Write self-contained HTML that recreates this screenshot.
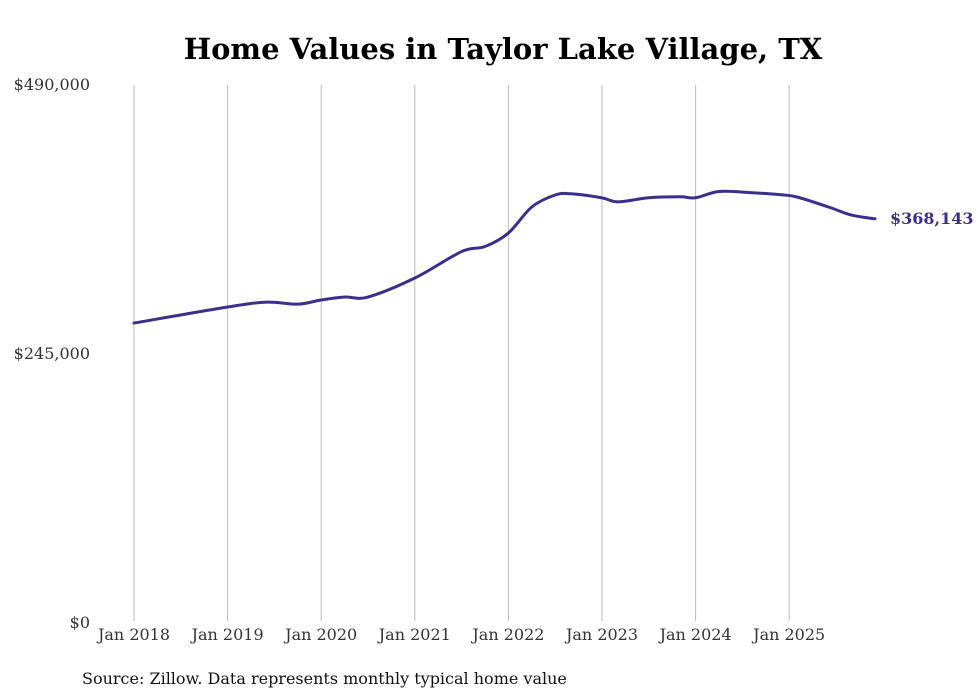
<!DOCTYPE html>
<html><head><meta charset="utf-8"><style>
body{margin:0;background:#fff;}
svg{display:block;font-family:"DejaVu Serif","Liberation Serif",serif;}
</style></head><body>
<svg id="chart" width="980" height="699" viewBox="0 0 980 699" xmlns="http://www.w3.org/2000/svg">
<text x="503" y="59" text-anchor="middle" font-size="29" font-weight="bold" fill="#000">Home Values in Taylor Lake Village, TX</text>
<g id="grid"></g><g id="yaxis"></g><g id="xaxis"></g><g id="series"></g>
<text x="82" y="684" font-size="16" fill="#111">Source: Zillow. Data represents monthly typical home value</text>
</svg>
<script>
const months = [0,12,17,21,24,27,30,36,42,45,48,51,54,56,60,62,66,70,72,75,79,83,85,89,92,95];
const values = [273200,287800,292200,290400,294200,296900,296900,314200,338300,342900,355200,378900,389800,390900,387200,383600,387300,388200,387300,393000,392000,390000,388000,379000,371500,368143];
const yTicks = [0,245000,490000];
const yTickLabels = ["$0","$245,000","$490,000"];
const xTickMonths = [0,12,24,36,48,60,72,84];
const xTickLabels = ["Jan 2018","Jan 2019","Jan 2020","Jan 2021","Jan 2022","Jan 2023","Jan 2024","Jan 2025"];
const endLabel = "$368,143";

const NS="http://www.w3.org/2000/svg";
const x = m => 134 + m*(93.6/12);
const y = v => 623 - v/490000*538;
function mk(tag, attrs, parent){const e=document.createElementNS(NS,tag);for(const k in attrs)e.setAttribute(k,attrs[k]);parent.appendChild(e);return e;}
const grid=document.getElementById('grid'), ya=document.getElementById('yaxis'), xa=document.getElementById('xaxis'), se=document.getElementById('series');
xTickMonths.forEach((m,i)=>{
  const l=mk('line',{x1:x(m),x2:x(m),y1:85,y2:621,stroke:'#bbb','stroke-width':1},grid);
  
  
  const t=mk('text',{x:x(m),y:640,'text-anchor':'middle','font-size':16,fill:'#333'},xa);
  t.textContent=xTickLabels[i];
  
  
});
yTicks.forEach((v,i)=>{
  const t=mk('text',{x:90,y:y(v)+5,'text-anchor':'end','font-size':16,fill:'#333'},ya);
  t.textContent=yTickLabels[i];
  
  
});
const pts=months.map((m,i)=>[x(m),y(values[i])]);
let d='M'+pts[0][0]+','+pts[0][1];
for(let i=0;i<pts.length-1;i++){
  const p0=pts[Math.max(0,i-1)],p1=pts[i],p2=pts[i+1],p3=pts[Math.min(pts.length-1,i+2)];
  const c1=[p1[0]+(p2[0]-p0[0])/6,p1[1]+(p2[1]-p0[1])/6];
  const c2=[p2[0]-(p3[0]-p1[0])/6,p2[1]-(p3[1]-p1[1])/6];
  d+=' C'+c1[0]+','+c1[1]+' '+c2[0]+','+c2[1]+' '+p2[0]+','+p2[1];
}
const path=mk('path',{d:d,fill:'none',stroke:'#3b2f8c','stroke-width':3,'stroke-linecap':'round'},se);


const last=pts[pts.length-1];
const lab=mk('text',{x:last[0]+15,y:last[1]+5,'font-size':16,'font-weight':'bold',fill:'#3b2f8c'},se);
lab.textContent=endLabel;


</script>
</body></html>
